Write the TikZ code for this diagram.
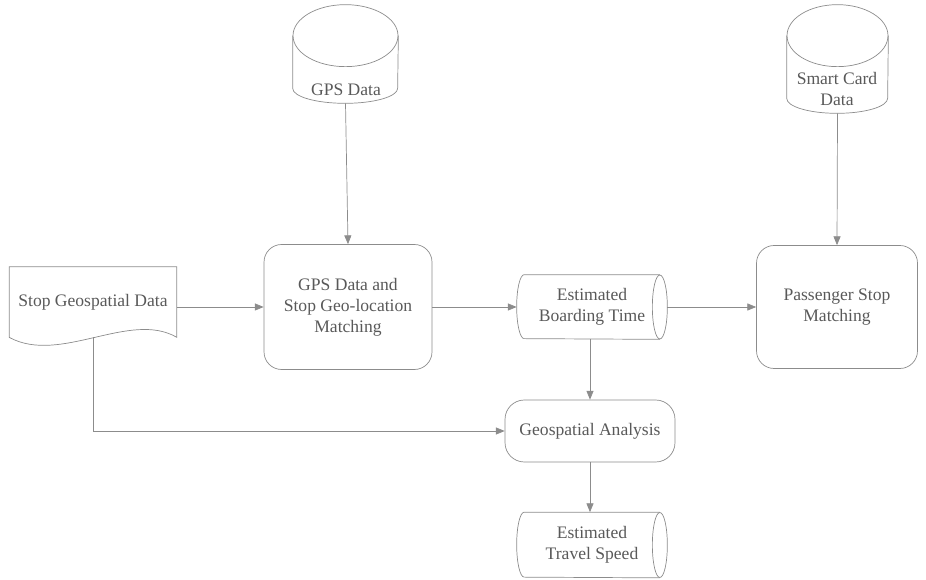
\documentclass[tikz,border=0pt]{standalone}
\usepackage{fontspec}
\setmainfont{Liberation Serif}
\usetikzlibrary{arrows.meta}
\definecolor{edgegray}{gray}{0.55}
\definecolor{txtgray}{gray}{0.35}
\tikzset{
  label/.style={font=\fontsize{10}{12}\selectfont, text=txtgray, align=center},
  process/.style={label, draw=edgegray, rounded corners=10pt, minimum width=3.36cm, minimum height=2.5cm},
  datastore/.style={minimum width=2.1cm, minimum height=1.96cm},
  stored/.style={label, minimum width=3cm, minimum height=1.28cm},
  terminal/.style={label, draw=edgegray, rounded corners=11pt, minimum width=3.4cm, minimum height=1.24cm},
  docnode/.style={label, minimum width=3.34cm, minimum height=1.4cm},
  flow/.style={draw=edgegray, -{Triangle[width=4pt,length=5pt]}}
}
% outline of an upright data cylinder around node #1 (half width #2, top radius #3, bottom radius #4)
\newcommand{\dboutline}[4]{%
  \draw[edgegray] ([yshift=-#3]#1.north) ellipse[x radius=#2, y radius=#3];
  \draw[edgegray] ([yshift=-#3]#1.north west) -- ([yshift=#4]#1.south west)
    arc[start angle=180, end angle=360, x radius=#2, y radius=#4] -- ([yshift=-#3]#1.north east);
}
% outline of a lying cylinder around node #1 (half height #2)
\newcommand{\storedoutline}[2]{%
  \draw[edgegray] ([xshift=-0.15cm]#1.north east) -- ([xshift=0.15cm]#1.north west)
    arc[start angle=90, end angle=270, x radius=0.15cm, y radius=#2] -- ([xshift=-0.15cm]#1.south east);
  \draw[edgegray] ([xshift=-0.15cm]#1.east) ellipse[x radius=0.15cm, y radius=#2];
}
\begin{document}
\begin{tikzpicture}[x=0.02cm,y=-0.02cm]
\useasboundingbox (0,0) rectangle (926,580);

% data sources
\node[datastore] (gps) at (345.5,54) {};
\dboutline{gps}{1.05cm}{0.62cm}{0.3cm}
\node[label] at (346,90) {GPS Data};
\node[datastore, minimum width=2.02cm, minimum height=2.16cm] (smart) at (837.5,59) {};
\dboutline{smart}{1.01cm}{0.62cm}{0.3cm}
\node[label] at (837,89) {Smart Card\\Data};

% document
\node[docnode] (sgd) at (93,302) {Stop Geospatial Data};
\draw[edgegray] (sgd.north west) -- (sgd.north east) -- (sgd.south east)
  .. controls (130,310) and (60,365) .. (sgd.south west) -- cycle;

% processing steps
\node[process] (gpsm) at (348,307) {GPS Data and\\Stop Geo-location\\Matching};
\node[process, minimum width=3.22cm, minimum height=2.46cm] (pass) at (837,307) {Passenger Stop\\Matching};
\node[stored] (board) at (592,307) {Estimated\\Boarding Time};
\storedoutline{board}{0.64cm}
\node[terminal] (geo) at (590,431) {Geospatial Analysis};
\node[stored, minimum height=1.3cm] (travel) at (592,545) {Estimated\\Travel Speed};
\storedoutline{travel}{0.65cm}

% connectors
\draw[flow] (gps.south) -- (gpsm.north);
\draw[flow] (smart.south) -- (pass.north);
\draw[flow] (sgd.east |- gpsm.west) -- (gpsm.west);
\draw[flow] (gpsm.east) -- (board.west);
\draw[flow] (board.east) -- (pass.west);
\draw[flow] (board.south -| geo.north) -- (geo.north);
\draw[flow] (sgd.south) |- (geo.west);
\draw[flow] (geo.south) -- (travel.north -| geo.south);
\end{tikzpicture}
\end{document}
